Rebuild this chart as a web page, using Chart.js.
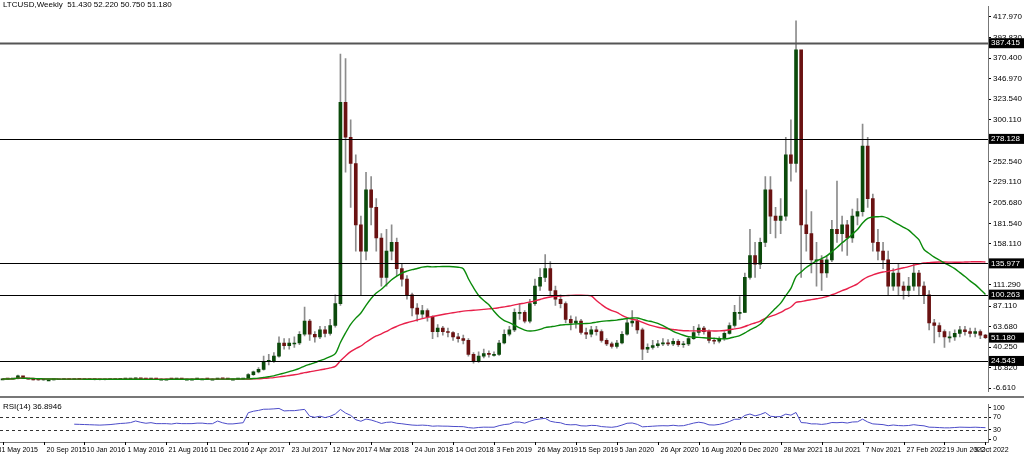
<!DOCTYPE html>
<html><head><meta charset="utf-8">
<script src="https://cdn.jsdelivr.net/npm/chart.js@4"></script>
<style>
body{margin:0;background:#fff;width:1024px;height:455px;overflow:hidden;position:relative}
canvas{position:absolute;left:0}
#main{top:0}#rsi{top:398px}
</style></head><body>
<canvas id="main" width="1024" height="398"></canvas>
<canvas id="rsi" width="1024" height="57"></canvas>
<script>
// LTCUSD, 2-week candles from 31 May 2015 to 9 Oct 2022
const closes = [
 4.0,3.9,4.3,7.5,4.5,3.8,3.0,2.8, 2.9,2.9,3.1,3.3,3.5,3.3,3.6,3.5,
 3.4,3.3,3.2,3.1,3.2,3.3,3.5,3.7, 3.8,4.0,4.6,4.2,3.9,4.1,3.8,3.8,
 3.8,3.7,3.9,3.8,3.8,3.8,3.9,3.9, 3.8,3.8,4.3,4.0,3.8,3.8,3.9,4.0,
 9,12,15,24,25,30,45,42, 45,45,55,70,55,52,60,56,
 65,90,320,280,250,180,150,220, 200,165,120,150,160,130,118,100,
 85,78,82,75,58,62,58,57, 52,50,48,32,24,30,33,32,
 32,45,55,60,80,80,70,90, 110,120,130,105,95,90,72,68,
 70,57,55,60,58,48,44,41, 45,55,68,70,60,38,40,42,
 44,45,44,47,43,44,50,57, 62,58,48,47,50,56,65,80,
 80,120,145,135,160,220,190,185, 190,260,250,380,180,170,140,140,
 125,140,175,170,180,165,190,195, 270,210,160,150,140,110,125,110,
 105,110,125,110,100,68,65,58, 52,52,56,60,58,56,58,54,51.18];
const highs = [
 4.2,4.1,4.6,8.5,7.0,4.6,3.9,3.2, 3.1,3.1,3.3,3.6,3.8,3.6,3.8,3.8,
 3.6,3.5,3.4,3.3,3.4,3.5,3.7,4.0, 4.0,4.4,4.9,4.8,4.3,4.3,4.2,4.0,
 4.0,3.9,4.0,4.0,3.9,4.0,4.0,4.1, 4.0,4.0,4.5,4.4,4.1,3.9,4.0,4.3,
 10,13,17,30,32,34,52,50, 50,52,58,86,72,58,64,64,
 72,100,375,370,300,260,190,240, 235,210,170,175,180,165,135,122,
 102,90,88,84,76,66,64,62, 58,56,54,50,34,35,38,36,
 35,48,60,64,84,90,82,95, 118,130,146,138,110,100,92,76,
 75,72,62,64,64,60,50,46, 48,58,72,82,72,62,44,48,
 48,50,49,50,49,47,52,64, 66,64,60,51,52,58,68,88,
 98,125,175,160,165,235,235,200, 210,280,300,413,300,220,195,160,
 145,145,185,230,190,185,198,210, 295,280,215,175,160,150,130,135,
 115,120,135,128,115,105,72,68, 60,58,60,64,64,62,62,60,55];
const lows = [
 3.8,3.6,3.8,4.1,4.2,3.6,2.8,2.6, 2.7,2.8,2.8,3.1,3.3,3.2,3.2,3.3,
 3.3,3.1,3.0,3.0,3.0,3.1,3.2,3.4, 3.6,3.7,3.9,4.0,3.7,3.8,3.7,3.6,
 3.6,3.6,3.6,3.7,3.7,3.7,3.7,3.7, 3.6,3.6,3.7,3.8,3.6,3.6,3.7,3.8,
 3.9,8,11,14,20,23,29,38, 38,40,43,53,48,46,50,52,
 54,63,88,240,200,150,100,140, 180,150,110,110,140,122,110,95,
 76,70,74,70,50,52,54,52, 48,46,44,30,22,23,28,29,
 30,31,44,53,58,72,68,68, 88,105,115,100,88,85,68,60,
 62,55,50,52,54,46,42,39, 39,44,54,64,56,26,34,38,
 40,42,42,42,41,40,42,49, 54,55,45,44,45,48,55,63,
 72,80,118,120,130,155,170,165, 170,185,230,240,120,150,125,110,
 105,120,138,160,150,145,160,180, 190,200,150,140,130,100,105,100,
 95,98,105,100,90,60,45,52, 40,46,48,52,54,52,52,50,50];
const firstOpen = 4.0;
const dateTicks = ['31 May 2015','20 Sep 2015','10 Jan 2016','1 May 2016','21 Aug 2016','11 Dec 2016',
 '2 Apr 2017','23 Jul 2017','12 Nov 2017','4 Mar 2018','24 Jun 2018','14 Oct 2018','3 Feb 2019',
 '26 May 2019','15 Sep 2019','5 Jan 2020','26 Apr 2020','16 Aug 2020','6 Dec 2020','28 Mar 2021',
 '18 Jul 2021','7 Nov 2021','27 Feb 2022','19 Jun 2022','9 Oct 2022'];
const yTicks = [417.97,393.83,370.40,346.97,323.54,300.11,276.68,252.54,229.11,205.68,181.54,158.11,134.68,111.29,87.11,63.68,40.25,16.82,-6.61];
const rsiTicks = [100,70,30,0];
const levels = [387.415,278.128,135.977,100.263,24.543];
const lastPrice = 51.18;

const opens = closes.map((c,i)=> i ? closes[i-1] : firstOpen);
const labels = closes.map((c,i)=>i);
function sma(n){return closes.map((c,i)=>{const s=closes.slice(Math.max(0,i-n+1),i+1);return s.reduce((a,b)=>a+b,0)/s.length;});}
function rsi(n){const out=[null];let ag=0,al=0;
 for(let i=1;i<closes.length;i++){const d=closes[i]-closes[i-1];const g=Math.max(d,0),l=Math.max(-d,0);
  if(i<=n){ag+=g/n;al+=l/n;}else{ag=(ag*(n-1)+g)/n;al=(al*(n-1)+l)/n;}
  out.push(i<n?null:(al===0?100:100-100/(1+ag/al)));}
 return out;}
const bull = closes.map((c,i)=>c>=opens[i]);
const FF = 'Liberation Sans';
const FONT = {family:FF,size:8};

function label(ctx,area,txt,y,bg){
 ctx.font='8px '+FF;ctx.textBaseline='middle';
 ctx.fillStyle=bg;ctx.fillRect(area.right+1,y-5,36,10);
 ctx.fillStyle='#fff';ctx.textAlign='left';ctx.fillText(txt,area.right+3,y);
}
const mainPlugin={id:'mainDeco',
 afterDatasetsDraw(chart){const {ctx,chartArea:a,scales:{y}}=chart;ctx.save();
  levels.forEach((v,i)=>{const py=Math.round(y.getPixelForValue(v))+0.5;
   ctx.strokeStyle=i===0?'#555':'#000';ctx.lineWidth=i===0?2:1.2;
   ctx.beginPath();ctx.moveTo(a.left,py);ctx.lineTo(a.right,py);ctx.stroke();});
  ctx.restore();},
 afterDraw(chart){const {ctx,chartArea:a,scales:{y}}=chart;ctx.save();
  levels.forEach(v=>label(ctx,a,v.toFixed(3),y.getPixelForValue(v),'#000'));
  label(ctx,a,lastPrice.toFixed(3),y.getPixelForValue(lastPrice),'#000');
  ctx.fillStyle='#000';ctx.font='8px '+FF;ctx.textAlign='left';ctx.textBaseline='middle';
  ctx.fillText('LTCUSD,Weekly  51.430 52.220 50.750 51.180',3,5);
  ctx.strokeStyle='#777';ctx.lineWidth=2;ctx.beginPath();ctx.moveTo(0,397);ctx.lineTo(1024,397);ctx.stroke();
  ctx.restore();}};

new Chart(document.getElementById('main'),{
 type:'bar',
 data:{labels,datasets:[
  {type:'line',data:sma(25),borderColor:'#0a8a0a',borderWidth:1.4,pointRadius:0,order:0,tension:0.3},
  {type:'line',data:sma(50),borderColor:'#e8204a',borderWidth:1.4,pointRadius:0,order:0,tension:0.3},
  {data:opens.map((o,i)=>[o,closes[i]]),grouped:false,barThickness:3,minBarLength:1,order:1,
   backgroundColor:bull.map(b=>b?'#0b4a0b':'#6a1212')},
  {data:lows.map((l,i)=>[l,highs[i]]),grouped:false,barThickness:1,order:2,backgroundColor:'#8c8c8c'}]},
 options:{responsive:false,animation:false,events:[],
  plugins:{legend:{display:false},tooltip:{enabled:false}},
  layout:{padding:0},
  scales:{
   x:{display:false},
   y:{position:'right',min:-10,max:429,
    afterFit(s){s.width=36;},
    afterBuildTicks(s){s.ticks=yTicks.map(v=>({value:v}));},
    ticks:{font:FONT,color:'#000',padding:2,autoSkip:false,callback:v=>v.toFixed(3)},
    grid:{drawOnChartArea:false,tickLength:3,color:'#000'},
    border:{color:'#777',width:1}}}},
 plugins:[mainPlugin]});

const rsiPlugin={id:'rsiDeco',
 beforeDatasetsDraw(chart){const {ctx,chartArea:a,scales:{y}}=chart;ctx.save();
  ctx.setLineDash([3,3]);ctx.strokeStyle='#333';ctx.lineWidth=1;
  [70,30].forEach(v=>{const py=Math.round(y.getPixelForValue(v))+0.5;ctx.beginPath();ctx.moveTo(a.left,py);ctx.lineTo(a.right,py);ctx.stroke();});
  ctx.restore();},
 afterDraw(chart){const {ctx,chartArea:a,scales:{x}}=chart;const r=rsi(14);ctx.save();
  ctx.fillStyle='#000';ctx.font='8px '+FF;ctx.textBaseline='middle';ctx.textAlign='left';
  ctx.fillText('RSI(14) '+r[r.length-1].toFixed(4),3,9);
  ctx.font='7px '+FF;ctx.strokeStyle='#000';ctx.lineWidth=1;
  dateTicks.forEach((t,j)=>{const px=Math.round(x.getPixelForValue(j*8))+0.5;
   ctx.beginPath();ctx.moveTo(px,a.bottom);ctx.lineTo(px,a.bottom+3);ctx.stroke();
   const last=j===dateTicks.length-1;
   ctx.textAlign=last?'center':'left';
   ctx.fillText(t,last?px+6:(j===0?px-6:px+2),a.bottom+8);});
  ctx.restore();}};

new Chart(document.getElementById('rsi'),{
 type:'line',
 data:{labels,datasets:[{data:rsi(14),borderColor:'#4b4bc8',borderWidth:1,pointRadius:0}]},
 options:{responsive:false,animation:false,events:[],
  plugins:{legend:{display:false},tooltip:{enabled:false}},
  layout:{padding:{top:2}},
  scales:{
   x:{offset:true,afterFit(s){s.height=13;},ticks:{display:false},
    grid:{drawOnChartArea:false,drawTicks:false},
    border:{color:'#777'}},
   y:{position:'right',min:-8.6,max:111.4,
    afterFit(s){s.width=36;},
    afterBuildTicks(s){s.ticks=rsiTicks.map(v=>({value:v}));},
    ticks:{font:{family:FF,size:7},color:'#000',padding:2,autoSkip:false},
    grid:{drawOnChartArea:false,tickLength:3,color:'#000'},
    border:{color:'#777'}}}},
 plugins:[rsiPlugin]});
</script>
</body></html>
